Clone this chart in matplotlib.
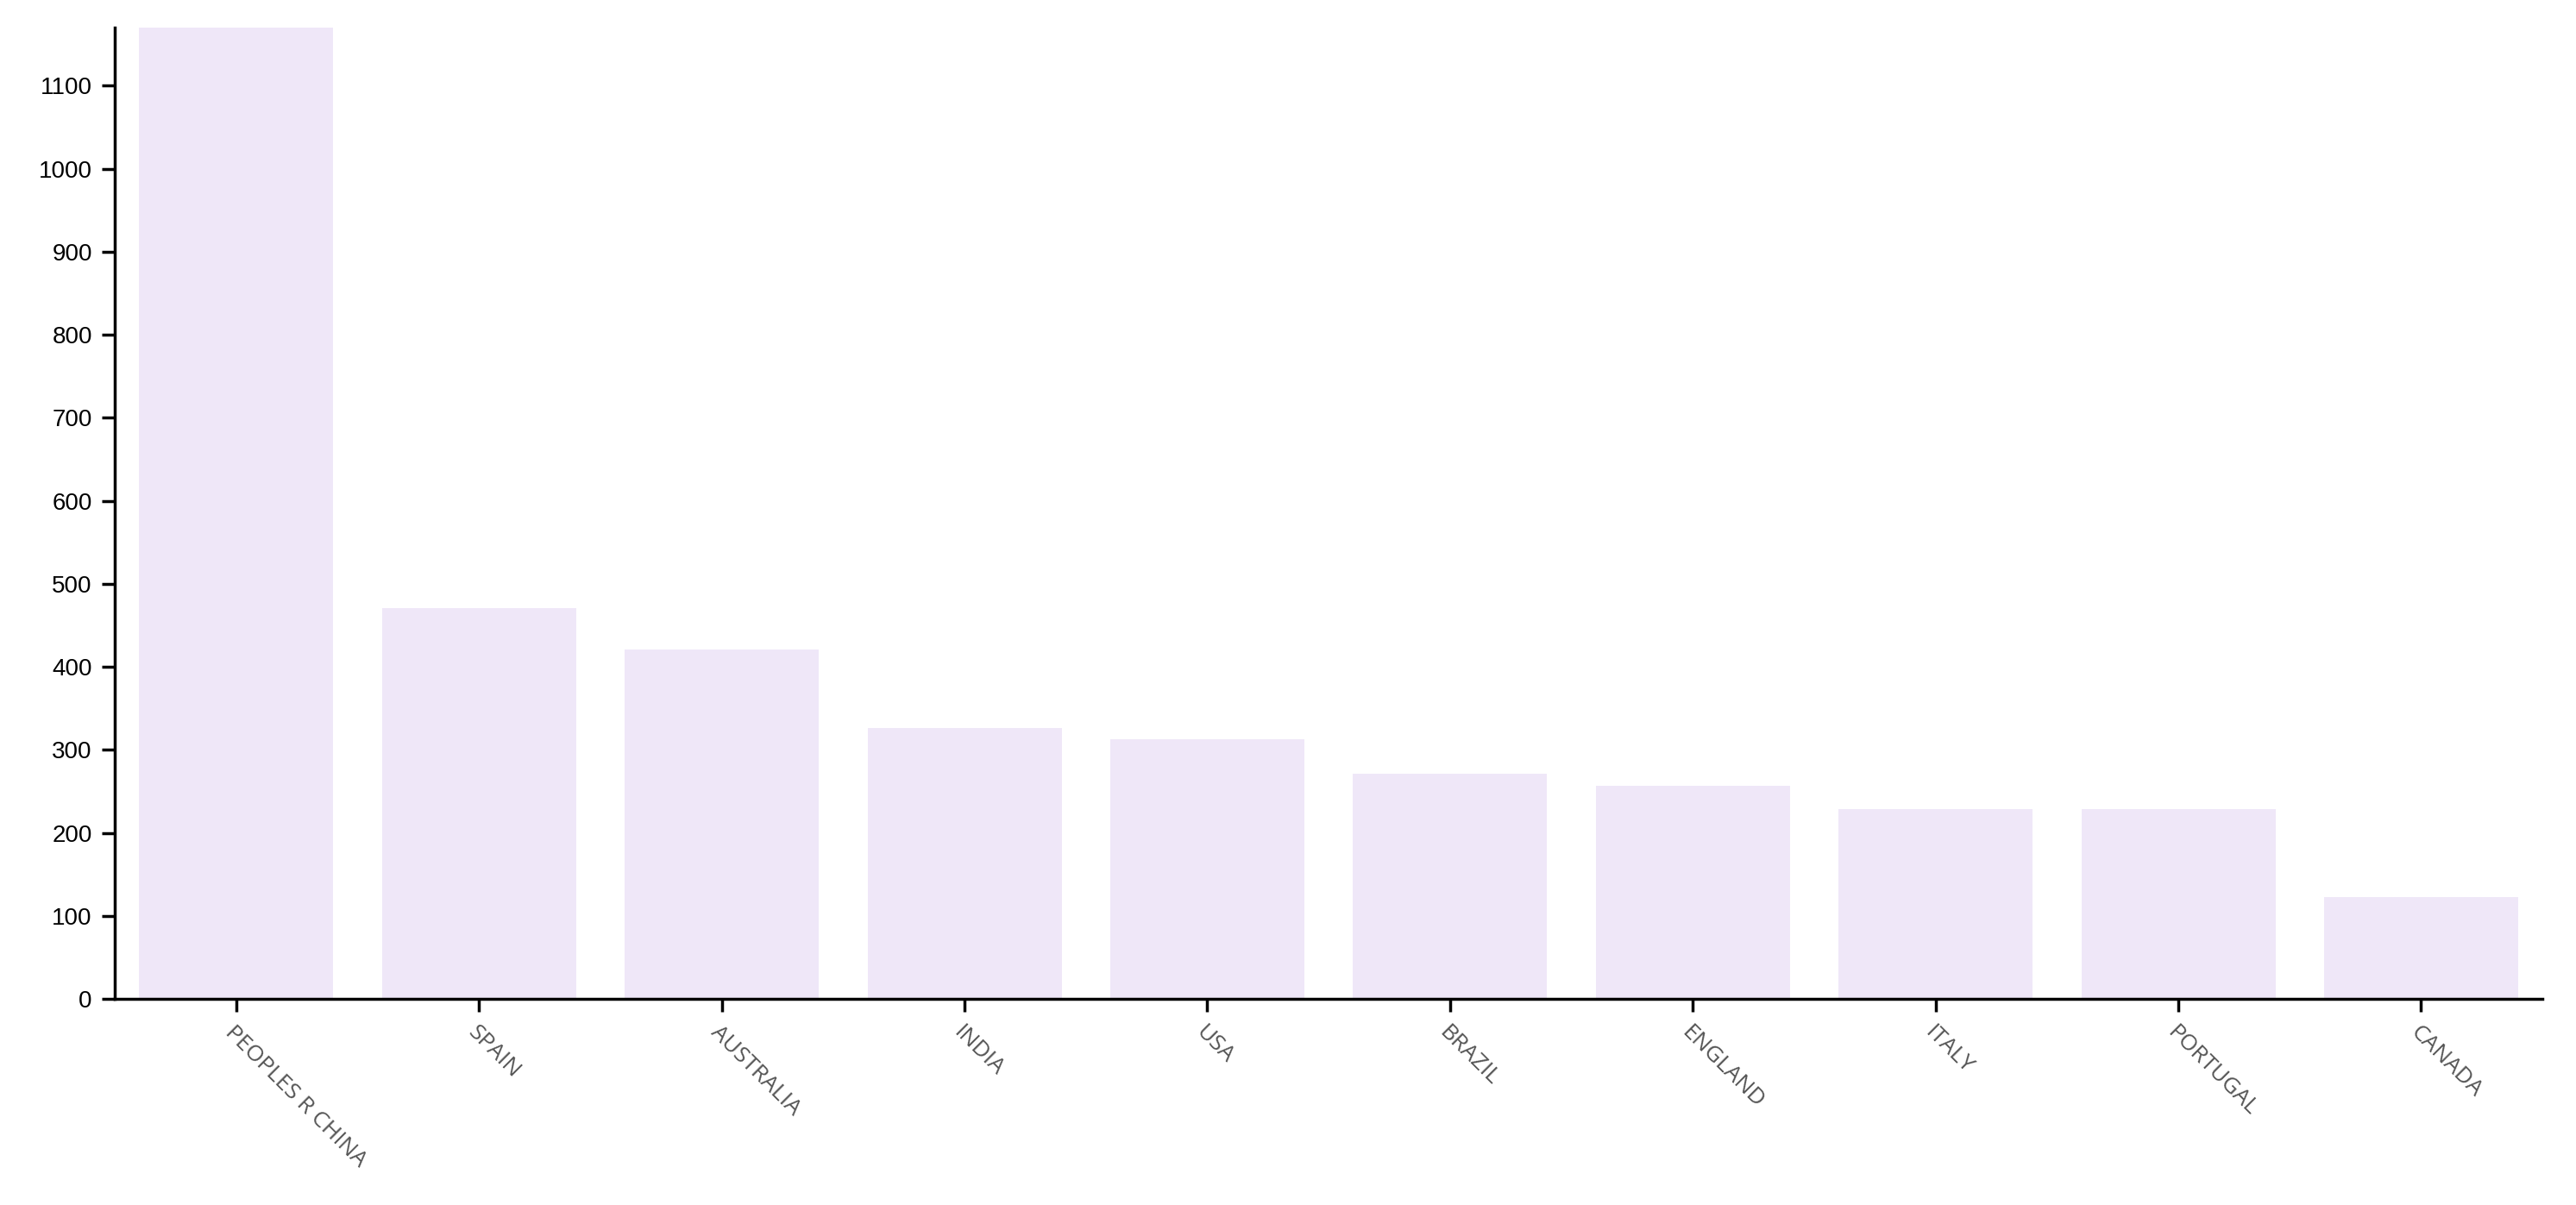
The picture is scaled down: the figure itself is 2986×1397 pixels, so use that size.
import matplotlib
matplotlib.use("Agg")
from matplotlib import pyplot as plt

countries = ['PEOPLES R CHINA', 'SPAIN', 'AUSTRALIA', 'INDIA', 'USA',
             'BRAZIL', 'ENGLAND', 'ITALY', 'PORTUGAL', 'CANADA']
counts = [1170, 471, 421, 326, 313, 271, 257, 229, 229, 123]
yticks = list(range(0, 1101, 100))

fig = plt.figure(figsize=(29.86, 13.97), dpi=100)
ax = fig.add_axes([0.0446, 0.171, 0.9424, 0.806])

pos = range(len(countries))
ax.bar(pos, counts, width=0.8, color='#efe7f8')
ax.set_xlim(-0.5, len(countries) - 0.5)
ax.set_ylim(0, max(counts))

ax.set_yticks(yticks)
ax.set_yticklabels([str(t) for t in yticks], fontsize=20, family='Liberation Sans')
ax.set_xticks(list(pos))
ax.set_xticklabels(countries, rotation=-45, ha='left', va='top', rotation_mode='anchor',
                   fontsize=19, color='#555555', family='Open Sans')

for s in ('top', 'right'):
  ax.spines[s].set_visible(False)
for s in ('left', 'bottom'):
  ax.spines[s].set_linewidth(2.5)
ax.tick_params(axis='both', length=11, width=2.5, pad=8)

fig.savefig('out.png', dpi=100)
